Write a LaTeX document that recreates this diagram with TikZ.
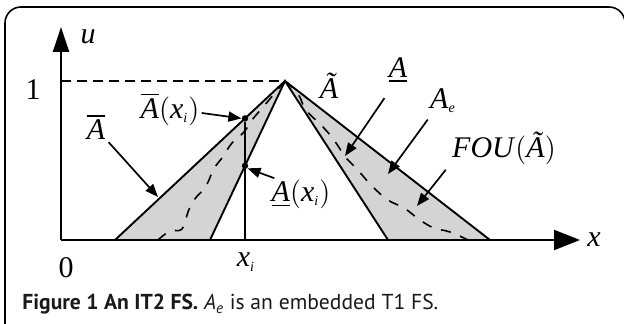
\documentclass[tikz,border=0pt]{standalone}
\usepackage{amsmath}
\usepackage{fontspec}
\setmainfont{Liberation Serif}
\setsansfont{PT Sans}
\usepackage{tikz}
\usetikzlibrary{arrows.meta,calc}
\definecolor{fougray}{RGB}{212,212,212}
\newcommand{\Ait}{\mbox{\textit{A}}}
\newcommand{\Atil}{\mbox{\textit{Ã}}}
\newcommand{\xit}{\mbox{\textit{x}}}
\newcommand{\iit}{\mbox{\scriptsize\textit{i}}}

\begin{document}
\begin{tikzpicture}[x=0.5pt, y=-0.5pt,
  every node/.style={inner sep=0pt},
  lbl/.style={font=\fontsize{15}{17}\selectfont},
  yaxis/.style={line width=1.2pt, -{Triangle[length=12.5pt, width=8pt]}},
  xaxis/.style={line width=1.2pt, -{Triangle[length=13pt, width=10pt]}},
  mf/.style={line width=0.95pt},
  embed/.style={line width=0.8pt, dash pattern=on 5pt off 5pt},
  pointer/.style={line width=0.85pt, -{Triangle[length=6.5pt, width=5pt]}},
  dot/.style={circle, fill=black, minimum size=3.2pt},
]
\useasboundingbox (0,0) rectangle (624,324);
\clip (0,0) rectangle (624,324);

%% ── Frame ─────────────────────────────────────────────────────────────────
\draw[line width=0.8pt, rounded corners=8pt] (5,326) -- (5,7) -- (625,7) -- (625,326);

%% ── Points of the membership functions ────────────────────────────────────
\coordinate (O)    at (61,240);
\coordinate (ytop) at (61,27);
\coordinate (xend) at (580,240);
\coordinate (peak) at (285,81);
\coordinate (uL)   at (115,240);
\coordinate (uR)   at (490,240);
\coordinate (lL)   at (210,240);
\coordinate (lR)   at (388,240);
\coordinate (xi)   at (245,240);
\coordinate (yone) at (61,81);

%% ── FOU ───────────────────────────────────────────────────────────────────
\fill[fougray] (uL) -- (peak) -- (uR) -- cycle;
\fill[white] (lL) -- (peak) -- (lR) -- cycle;

% embedded T1 FS (wavy dashed)
\draw[embed] plot[smooth, tension=0.7] coordinates
  {(158,240) (170,231) (182,229) (188,212) (194,200) (206,186) (214,168) (222,158)
   (232,143) (244,132) (252,120) (264,106) (274,94) (285,81)};
\draw[embed] plot[smooth, tension=0.7] coordinates
  {(285,81) (298,94) (306,110) (322,126) (334,140) (346,158) (356,168) (372,186)
   (388,200) (404,208) (420,220) (434,228) (450,232) (468,240)};

% upper and lower MFs
\draw[mf] (uL) -- (peak) -- (uR);
\draw[mf] (lL) -- (peak) -- (lR);
\draw[line width=0.9pt, dash pattern=on 5pt off 3pt] (yone) -- (peak);

% x_i and its membership grades
\node[dot] (ux) at (245,118.4) {};
\node[dot] (lx) at (245,165.8) {};
\draw[mf] (xi) -- (ux);

%% ── Axes ──────────────────────────────────────────────────────────────────
\draw[yaxis] (O) -- (ytop);
\draw[xaxis] (O) -- (xend);

%% ── Labels ────────────────────────────────────────────────────────────────
\node[lbl] (u)    at (88,37)  {\textit{u}};
\node[lbl] (x)    at (594,240) {\textit{x}};
\node[lbl] (one)  at (33,90)  {1};
\node[lbl] (zero) at (66,268) {0};
\node[lbl] (xil)  at (246,262) {$\xit_{\iit}$};

\node[lbl] (Atl)  at (329,86)  {\Atil};
\node[lbl] (Alow) at (398,70)  {$\underline{\Ait}$};
\node[lbl] (Ae)   at (443,101) {$\Ait_{\mbox{\scriptsize\textit{e}}}$};
\node[lbl] (FOU)  at (504,148) {\textit{FOU}$(\Atil)$};
\node[lbl] (Aup)  at (96,127)  {$\overline{\Ait}$};
\node[lbl] (Aupx) at (170,109) {$\overline{\Ait}(\xit_{\iit})$};
\node[lbl] (Alox) at (301,194) {$\underline{\Ait}(\xit_{\iit})$};

%% ── Pointers ──────────────────────────────────────────────────────────────
\draw[pointer] (Aup.south east) ++(3,2) -- (158,197);
\draw[pointer] (Aupx.east) ++(2,4) -- (ux.west);
\draw[pointer] (Alox.north west) ++(3,-1) -- (lx.south east);
\draw[pointer] (Alow.south west) ++(-4,15) -- (345,156);
\draw[pointer] (Ae.south west) ++(-2,6) -- (388,174);
\draw[pointer] (FOU.south west) ++(-6,5) -- (417,206);

%% ── Caption ───────────────────────────────────────────────────────────────
\node[anchor=base west, font=\sffamily\fontsize{10.8}{12}\selectfont, text=black!90]
  (cap) at (22,310)
  {\textbf{Figure 1 An IT2 FS.} \textit{A}\textsubscript{\textit{e}} is an embedded T1 FS.};

\end{tikzpicture}
\end{document}
